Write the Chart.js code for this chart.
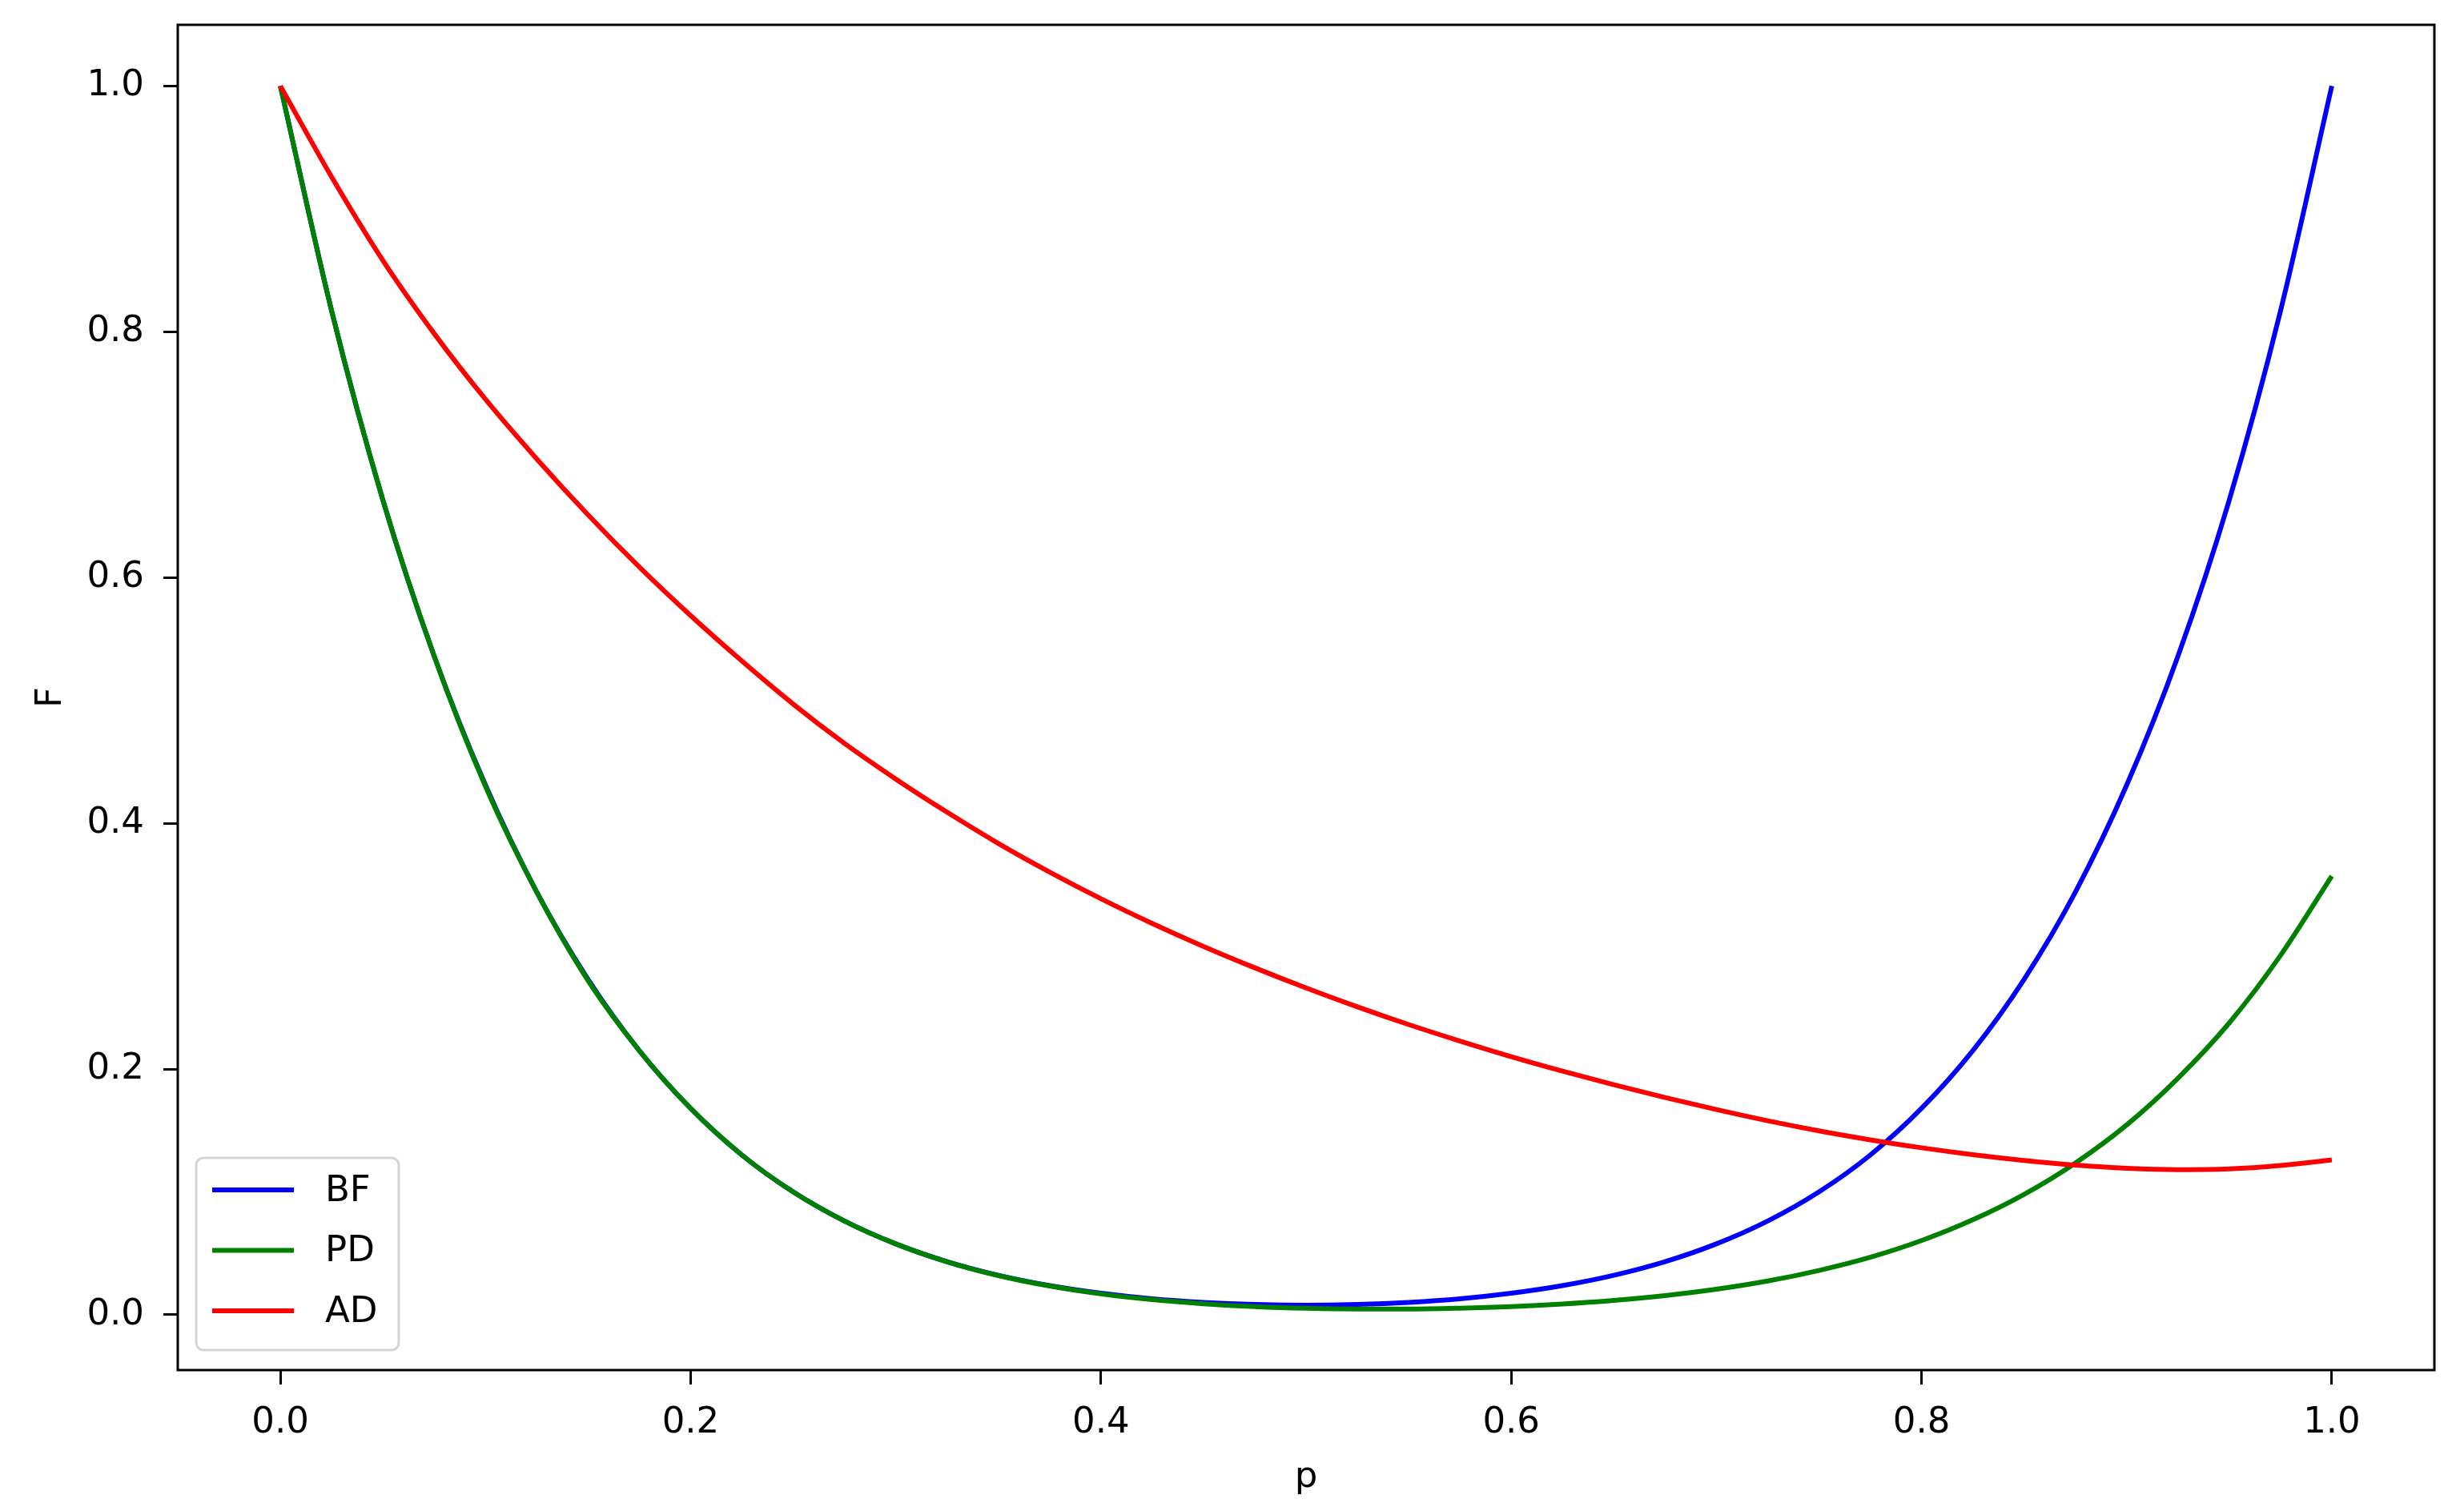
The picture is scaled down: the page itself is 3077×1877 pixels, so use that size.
<!DOCTYPE html>
<html>
<head>
<meta charset="utf-8">
<script src="https://cdn.jsdelivr.net/npm/chart.js@4.4.1/dist/chart.umd.min.js"></script>
<style>
html,body{margin:0;padding:0;background:#ffffff;}
#wrap{width:3077px;height:1877px;position:relative;}
</style>
</head>
<body>
<div id="wrap"><canvas id="c" width="3077" height="1877"></canvas></div>
<script>
// ---- data ----
const pValues = [0,0.025,0.05,0.075,0.1,0.125,0.15,0.175,0.2,0.225,0.25,0.275,0.3,0.325,0.35,0.375,0.4,0.425,0.45,0.475,0.5,0.525,0.55,0.575,0.6,0.625,0.65,0.675,0.7,0.725,0.75,0.775,0.8,0.825,0.85,0.875,0.9,0.925,0.95,0.975,1];
const bfValues = [1.000,0.817,0.663,0.536,0.431,0.344,0.273,0.215,0.168,0.130,0.100,0.0763,0.0577,0.0432,0.0321,0.0237,0.0175,0.0130,0.0101,0.0084,0.0078,0.0084,0.0101,0.0130,0.0175,0.0237,0.0321,0.0432,0.0577,0.0763,0.100,0.130,0.168,0.215,0.273,0.344,0.431,0.536,0.663,0.817,1.000];
const pdValues = [1.000,0.817,0.663,0.536,0.430,0.344,0.272,0.215,0.168,0.130,0.100,0.0763,0.0577,0.0431,0.0319,0.0234,0.0170,0.0123,0.0090,0.0067,0.0053,0.0047,0.0047,0.0054,0.0067,0.0088,0.0117,0.0156,0.0208,0.0275,0.0361,0.0468,0.0604,0.0773,0.0980,0.1235,0.1545,0.1925,0.2375,0.2925,0.357];
const adValues = [1.000,0.926,0.858,0.7985,0.745,0.6965,0.651,0.6085,0.569,0.532,0.497,0.465,0.436,0.409,0.3836,0.3603,0.3386,0.3185,0.2998,0.2824,0.266,0.2506,0.2362,0.2228,0.2101,0.1983,0.1872,0.1768,0.167,0.1579,0.1497,0.1424,0.1359,0.1303,0.1256,0.1218,0.1192,0.1181,0.1187,0.1215,0.126];
const seriesLabels = ['BF','PD','AD'];
const xTickValues = [0.0,0.2,0.4,0.6,0.8,1.0];
const yTickValues = [0.0,0.2,0.4,0.6,0.8,1.0];
const xTitle = 'p';
const yTitle = 'F';

// ---- styling ----
const FONT = '"DejaVu Sans", "Liberation Sans", sans-serif';
const FS = 45;
const colors = ['#0000ff','#008000','#ff0000'];
const seriesValues = [bfValues, pdValues, adValues];

const datasets = seriesValues.map((vals, i) => ({
  label: seriesLabels[i],
  data: pValues.map((p, j) => ({x: p, y: vals[j]})),
  borderColor: colors[i],
  backgroundColor: colors[i],
  borderWidth: 6,
  pointRadius: 0,
  fill: false,
  cubicInterpolationMode: 'monotone',
  order: seriesValues.length - i
}));

const framePlugin = {
  id: 'frameAndLegend',
  afterDatasetsDraw(chart) {
    const ctx = chart.ctx, a = chart.chartArea;
    ctx.save();
    // axes frame (spines)
    ctx.strokeStyle = '#000000';
    ctx.lineWidth = 3;
    ctx.strokeRect(a.left, a.top, a.right - a.left, a.bottom - a.top);
    // legend inside plot, lower left
    const w = 253, h = 240;
    const x0 = a.left + 23, y0 = a.bottom - 25 - h;
    ctx.beginPath();
    ctx.roundRect(x0, y0, w, h, 9);
    ctx.fillStyle = 'rgba(255,255,255,0.8)';
    ctx.fill();
    ctx.lineWidth = 3;
    ctx.strokeStyle = '#d4d4d4';
    ctx.stroke();
    ctx.font = FS + 'px ' + FONT;
    ctx.textBaseline = 'middle';
    ctx.textAlign = 'left';
    chart.data.datasets.forEach((ds, i) => {
      const cy = y0 + 40 + i * 75.5;
      ctx.beginPath();
      ctx.moveTo(x0 + 20, cy);
      ctx.lineTo(x0 + 122, cy);
      ctx.strokeStyle = ds.borderColor;
      ctx.lineWidth = ds.borderWidth;
      ctx.stroke();
      ctx.fillStyle = '#000000';
      ctx.fillText(ds.label, x0 + 161, cy + 2);
    });
    ctx.restore();
  }
};

new Chart(document.getElementById('c'), {
  type: 'line',
  data: { datasets },
  options: {
    responsive: false,
    devicePixelRatio: 1,
    animation: false,
    events: [],
    layout: { padding: { left: 0, top: 31, right: 37, bottom: 0 } },
    plugins: { legend: { display: false }, tooltip: { enabled: false } },
    scales: {
      x: {
        type: 'linear',
        min: -0.05,
        max: 1.05,
        afterBuildTicks: s => { s.ticks = xTickValues.map(v => ({value: v})); },
        afterFit: s => { s.height = 166; s.paddingLeft = 0; s.paddingRight = 0; },
        border: { display: false },
        grid: { display: true, drawOnChartArea: false, drawTicks: true, tickLength: 18, tickWidth: 3, tickColor: '#000000' },
        ticks: {
          autoSkip: false, maxRotation: 0, padding: 21,
          color: '#000000', font: { family: FONT, size: FS },
          callback: v => Number(v).toFixed(1)
        },
        title: { display: true, text: xTitle, color: '#000000', font: { family: FONT, size: FS }, padding: { top: 0, bottom: 5 } }
      },
      y: {
        type: 'linear',
        min: -0.045,
        max: 1.0498,
        afterBuildTicks: s => { s.ticks = yTickValues.map(v => ({value: v})); },
        afterFit: s => { s.width = 222; s.paddingTop = 0; s.paddingBottom = 0; },
        border: { display: false },
        grid: { display: true, drawOnChartArea: false, drawTicks: true, tickLength: 18, tickWidth: 3, tickColor: '#000000' },
        ticks: {
          autoSkip: false, padding: 24,
          color: '#000000', font: { family: FONT, size: FS },
          callback: v => Number(v).toFixed(1)
        },
        title: { display: true, text: yTitle, color: '#000000', font: { family: FONT, size: FS }, padding: { top: 37, bottom: 0 } }
      }
    }
  },
  plugins: [framePlugin]
});
</script>
</body>
</html>
